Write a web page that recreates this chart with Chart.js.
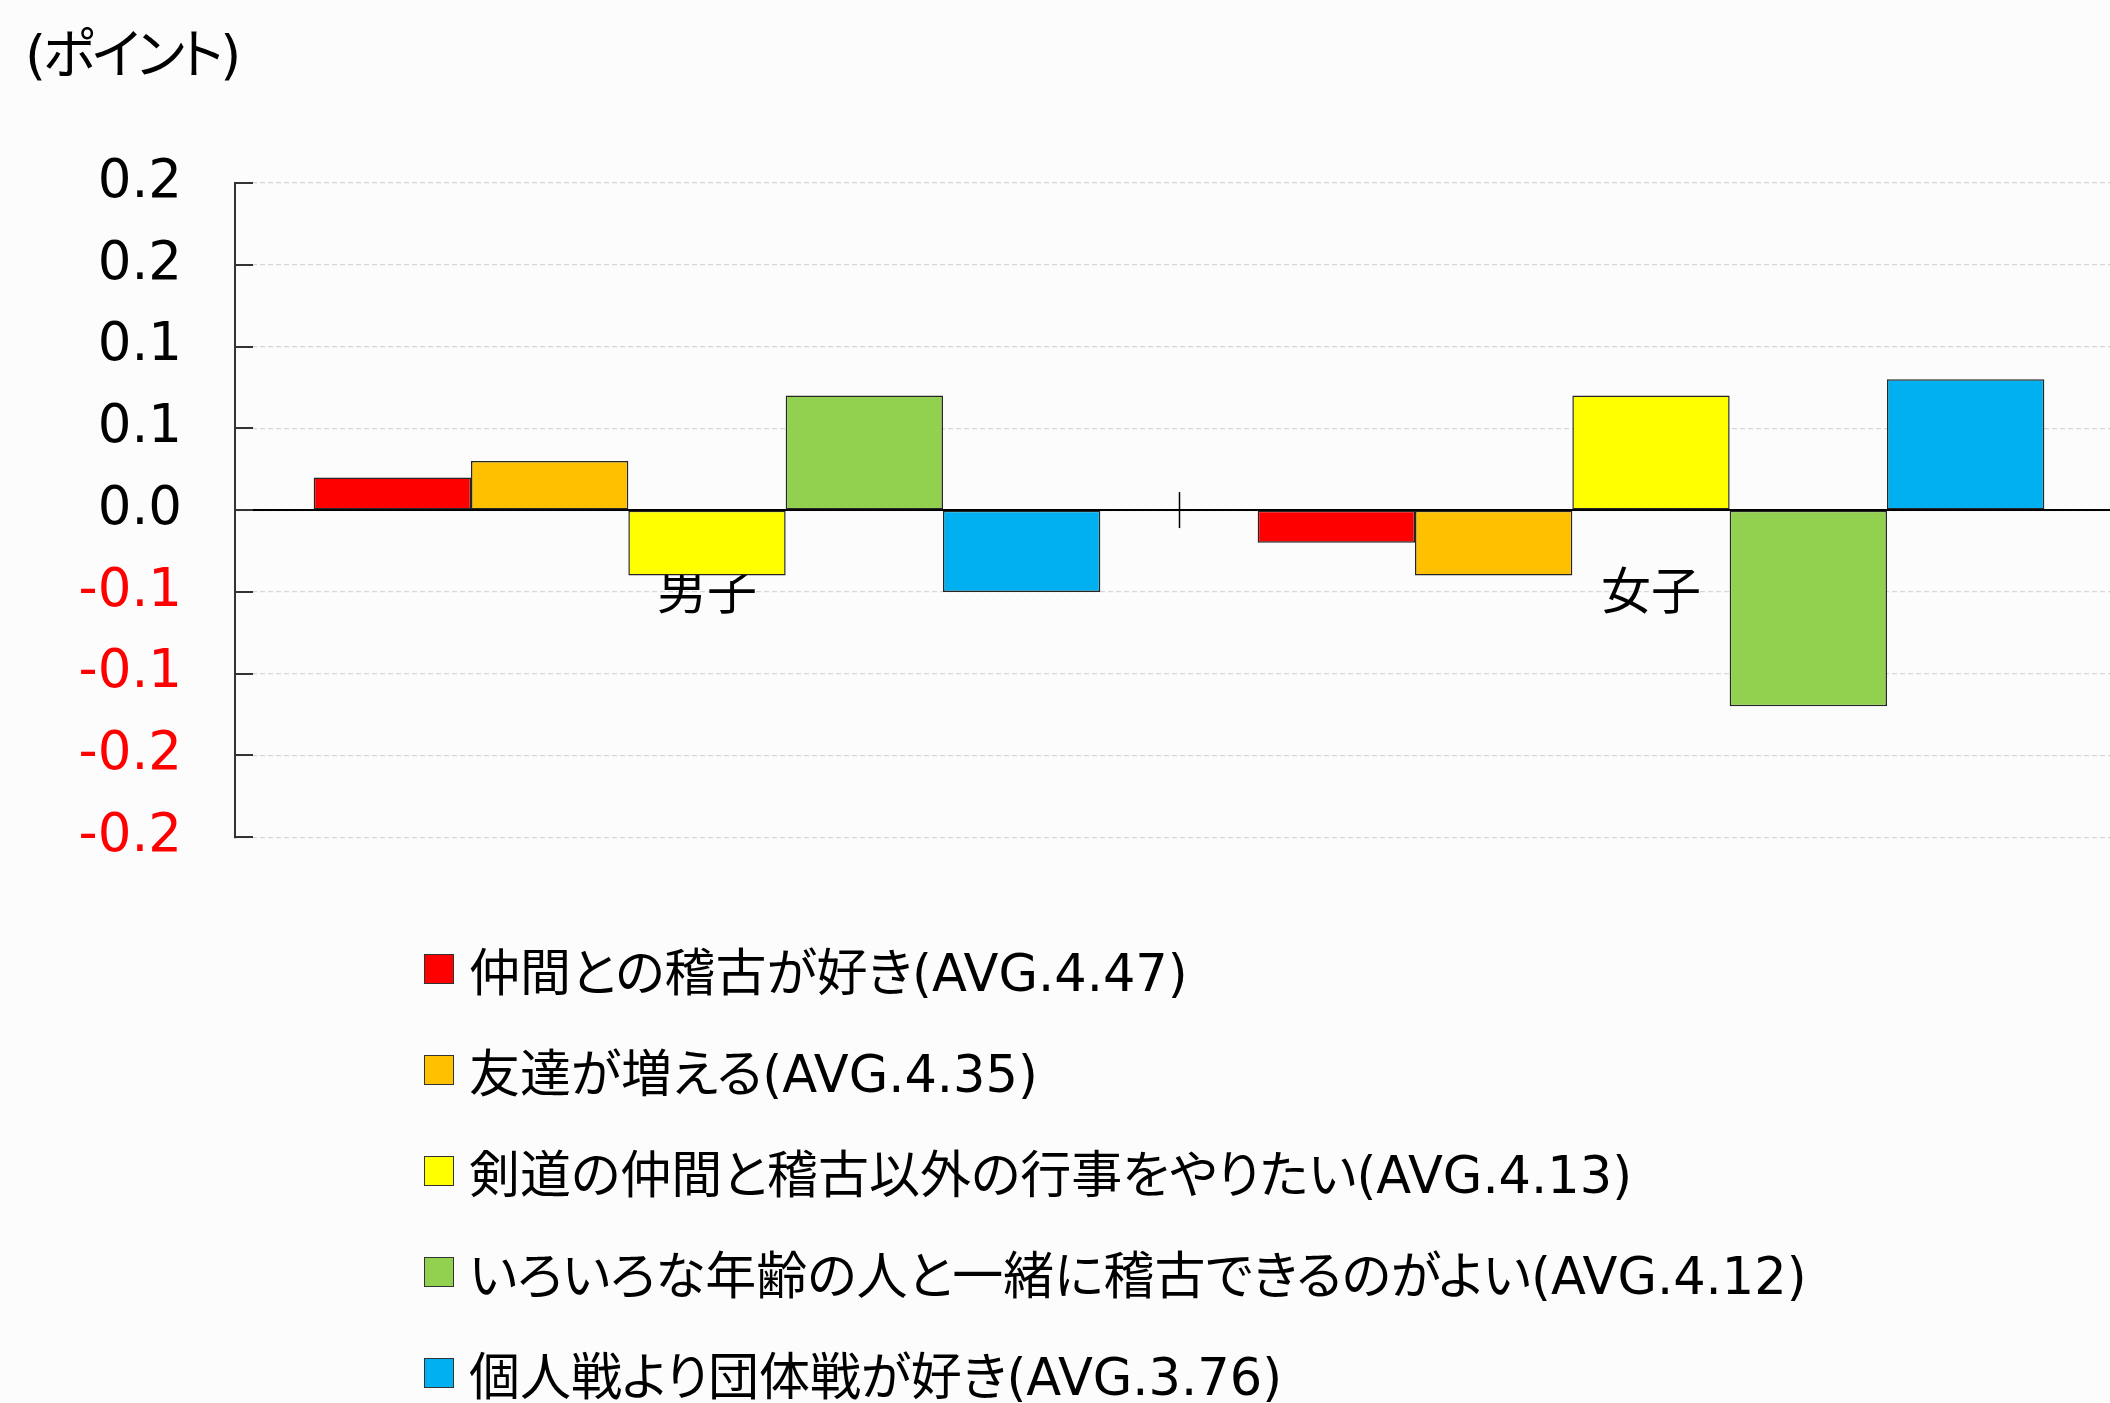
<!DOCTYPE html>
<html lang="ja">
<head>
<meta charset="utf-8">
<script src="https://cdn.jsdelivr.net/npm/chart.js@4.4.1/dist/chart.umd.min.js"></script>
<style>
  html, body { margin: 0; padding: 0; background: #fcfcfc; overflow: hidden; }
  body { width: 2110px; height: 1403px; position: relative; color: #000;
         font-family: "DejaVu Sans", "Noto Sans CJK JP", sans-serif; }
  #unit { position: absolute; left: 25px; top: 24px; font-size: 54px; line-height: 64px;
          letter-spacing: -3px; font-feature-settings: "palt"; white-space: nowrap; }
  #wrap { position: absolute; left: 0; top: 0; width: 2124px; height: 922px; }
  #legend { position: absolute; left: 424px; top: 918px; }
  .item { display: flex; align-items: center; height: 101px; font-size: 51px;
          font-feature-settings: "palt"; white-space: nowrap; }
  .box { width: 28px; height: 28px; border: 1px solid #333; margin-right: 15px; flex: none; }
</style>
</head>
<body>
<div id="unit">(ポイント)</div>
<div id="wrap"><canvas id="diffChart" width="2124" height="922"></canvas></div>
<div id="legend"></div>
<script>
// 男女別：平均からの差
const groups = ['男子', '女子'];
const seriesNames = [
  '仲間との稽古が好き',
  '友達が増える',
  '剣道の仲間と稽古以外の行事をやりたい',
  'いろいろな年齢の人と一緒に稽古できるのがよい',
  '個人戦より団体戦が好き'
];
const seriesAvg = ['4.47', '4.35', '4.13', '4.12', '3.76'];
const seriesColors = ['#ff0000', '#ffc000', '#ffff00', '#92d050', '#00b0f0'];
const diffMale = [0.02, 0.03, -0.04, 0.07, -0.05];
const diffFemale = [-0.02, -0.04, 0.07, -0.12, 0.08];
const yTickValues = [-0.2, -0.15, -0.1, -0.05, 0, 0.05, 0.1, 0.15, 0.2];
const yTickLabels = ['-0.2', '-0.2', '-0.1', '-0.1', '0.0', '0.1', '0.1', '0.2', '0.2'];

const FONT = '"DejaVu Sans", "Noto Sans CJK JP", sans-serif';

const datasets = seriesNames.map((name, i) => ({
  label: name + '(AVG.' + seriesAvg[i] + ')',
  data: [diffMale[i], diffFemale[i]],
  backgroundColor: seriesColors[i],
  borderColor: '#262626',
  borderWidth: 1.5,
  borderSkipped: false
}));

// inner tick marks on the value axis, cross marks between groups
const axisMarks = {
  id: 'axisMarks',
  afterDraw(chart) {
    const { ctx, chartArea, scales: { x, y } } = chart;
    ctx.save();
    ctx.strokeStyle = '#333';
    ctx.lineWidth = 2;
    ctx.beginPath();
    yTickValues.forEach(v => {
      const py = Math.round(y.getPixelForValue(v));
      ctx.moveTo(chartArea.left, py);
      ctx.lineTo(chartArea.left + 18, py);
    });
    ctx.stroke();
    const y0 = y.getPixelForValue(0);
    ctx.strokeStyle = '#000';
    ctx.lineWidth = 1.5;
    ctx.beginPath();
    for (let i = 1; i < groups.length; i++) {
      const px = Math.round(x.getPixelForValue(i - 0.5)) + 0.5;
      ctx.moveTo(px, y0 - 18);
      ctx.lineTo(px, y0 + 18);
    }
    ctx.stroke();
    ctx.restore();
  }
};

new Chart(document.getElementById('diffChart'), {
  type: 'bar',
  data: { labels: groups, datasets: datasets },
  options: {
    responsive: false,
    animation: false,
    layout: { padding: { left: 0, top: 183, right: 1, bottom: 39 } },
    datasets: { bar: { categoryPercentage: 5 / 6, barPercentage: 1 } },
    plugins: { legend: { display: false }, tooltip: { enabled: false } },
    scales: {
      x: {
        position: { y: 0 },
        afterFit(scale) { scale.height = 0; },
        grid: { display: true, drawOnChartArea: false, drawTicks: false },
        border: { display: true, color: '#000', width: 2 },
        ticks: { color: '#000', padding: 56, font: { family: FONT, size: 50 } }
      },
      y: {
        min: -0.2,
        max: 0.2,
        afterFit(scale) { scale.width = 235; },
        afterBuildTicks(scale) { scale.ticks = yTickValues.map(v => ({ value: v })); },
        grid: { color: '#d6d6d6', lineWidth: 1.2, drawTicks: false },
        border: { display: true, color: '#333', width: 2, dash: [5, 3] },
        ticks: {
          padding: 53,
          font: { family: FONT, size: 53 },
          color: ctx => ctx.tick.value < 0 ? '#ff0000' : '#000',
          callback: (v, i) => yTickLabels[i]
        }
      }
    }
  },
  plugins: [axisMarks]
});

const legend = document.getElementById('legend');
datasets.forEach(ds => {
  const row = document.createElement('div');
  row.className = 'item';
  const box = document.createElement('span');
  box.className = 'box';
  box.style.background = ds.backgroundColor;
  const text = document.createElement('span');
  text.textContent = ds.label;
  row.appendChild(box);
  row.appendChild(text);
  legend.appendChild(row);
});
</script>
</body>
</html>
